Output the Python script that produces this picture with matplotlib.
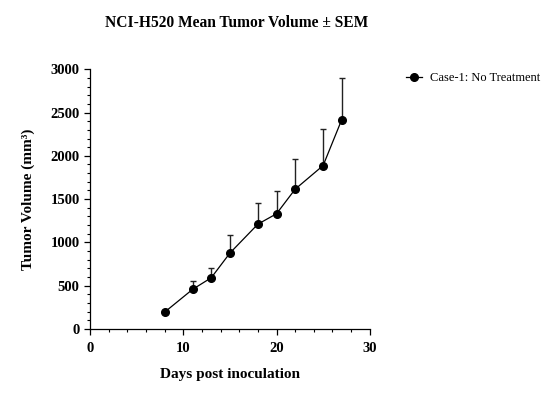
import matplotlib
matplotlib.use("Agg")
import matplotlib.pyplot as plt
from matplotlib.ticker import MultipleLocator
from matplotlib.lines import Line2D

days = [8, 11, 13, 15, 18, 20, 22, 25, 27]
mean_volume = [195, 458, 592, 877, 1211, 1331, 1615, 1888, 2419]
sem = [0, 99, 115, 211, 239, 265, 346, 427, 477]
series_label = "Case-1: No Treatment"

plt.rcParams['font.family'] = ['Liberation Serif', 'DejaVu Serif']

fig = plt.figure(figsize=(5.56, 4.11), dpi=100)
ax = fig.add_axes([0.162, 0.1995, 0.503, 0.632])

ax.errorbar(days, mean_volume, yerr=[[0]*len(sem), sem], fmt='-o', color='black',
            ecolor='#222222', elinewidth=1.0, capsize=2.5, capthick=1.0,
            markersize=5.5, linewidth=0.9)

ax.set_xlim(0, 30)
ax.set_ylim(0, 3000)
ax.xaxis.set_major_locator(MultipleLocator(10))
ax.xaxis.set_minor_locator(MultipleLocator(2))
ax.yaxis.set_major_locator(MultipleLocator(500))
ax.yaxis.set_minor_locator(MultipleLocator(100))
for s in ['top', 'right']:
    ax.spines[s].set_visible(False)
for s in ['left', 'bottom']:
    ax.spines[s].set_linewidth(0.9)
ax.tick_params(which='major', length=4, width=0.9, labelsize=10.5)
ax.tick_params(axis='x', which='major', pad=5)
ax.tick_params(which='minor', length=2.5, width=0.8)
for lab in ax.get_xticklabels() + ax.get_yticklabels():
    lab.set_fontweight('bold')

ax.set_xlabel("Days post inoculation", fontsize=11, fontweight='bold', labelpad=10)
ax.set_ylabel("Tumor Volume (mm³)", fontsize=11, fontweight='bold', labelpad=11)
fig.text(0.425, 0.945, "NCI-H520 Mean Tumor Volume ± SEM", fontsize=11.2,
         fontweight='bold', ha='center', va='center')

handle = Line2D([], [], color='black', marker='o', markersize=5.5, linewidth=0.9)
fig.legend([handle], [series_label], loc='center left', bbox_to_anchor=(0.71, 0.81),
           frameon=False, fontsize=9, handlelength=1.3, handletextpad=0.6)

fig.savefig("out.png", dpi=100)
